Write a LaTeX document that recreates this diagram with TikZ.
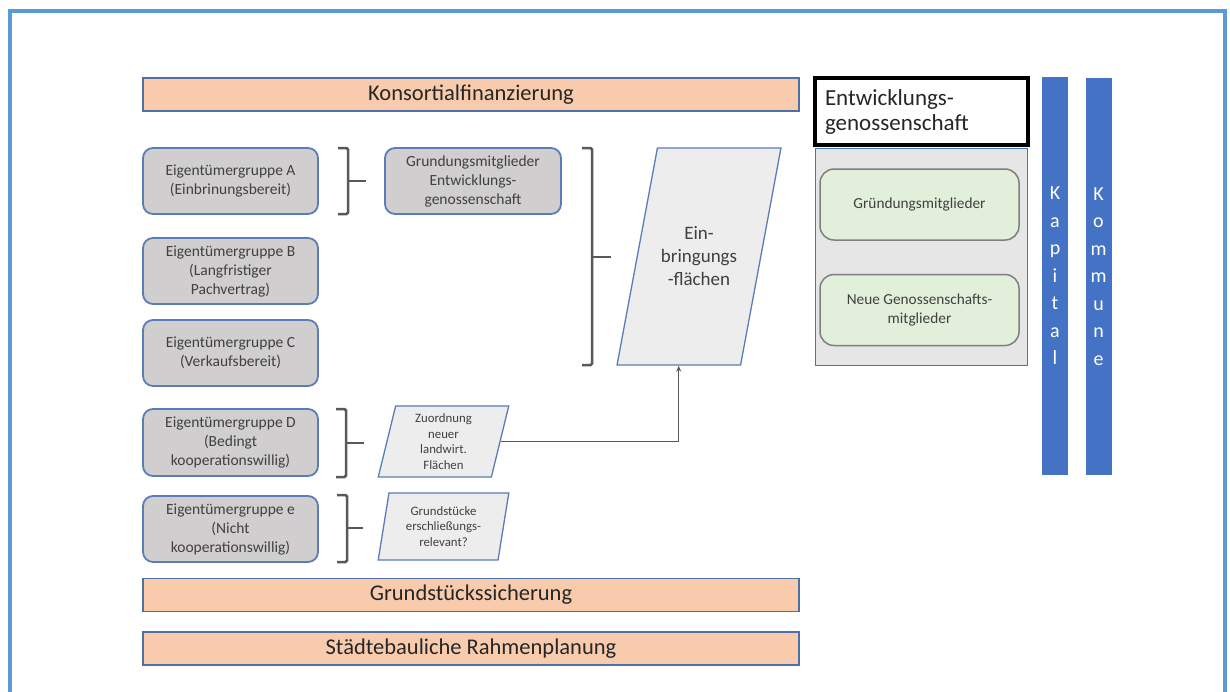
\documentclass[tikz,border=0pt]{standalone}
\usepackage{fontspec}
\setmainfont{Carlito}
\usetikzlibrary{shapes.geometric,arrows.meta}

\definecolor{frameblue}{HTML}{5B9BD5}
\definecolor{barblue}{HTML}{4F6FA8}
\definecolor{barfill}{HTML}{F8CBAD}
\definecolor{boxblue}{HTML}{5A7DB8}
\definecolor{boxgray}{HTML}{D0CECE}
\definecolor{parafill}{HTML}{EDEDED}
\definecolor{panelgray}{HTML}{E7E6E6}
\definecolor{greenfill}{HTML}{E2EFDA}
\definecolor{greenline}{HTML}{7F7F7F}
\definecolor{colblue}{HTML}{4472C4}
\definecolor{brkgray}{HTML}{595959}
\definecolor{txt}{HTML}{404040}

\begin{document}
\begin{tikzpicture}[x=1pt, y=-1pt,
  bar/.style={draw=barblue, fill=barfill, line width=1.3pt, minimum width=656pt,
              minimum height=33pt, inner sep=0pt, text=black!85,
              font=\fontsize{22.5}{26}\selectfont},
  grp/.style={draw=boxblue, fill=boxgray, rounded corners=10pt, line width=1.8pt,
              minimum width=175pt, minimum height=66pt, align=center, inner sep=2pt,
              text=txt, font=\fontsize{15.5}{19}\selectfont},
  para/.style={trapezium, trapezium left angle=79.5, trapezium right angle=100.5,
               trapezium stretches=true, draw=boxblue, fill=parafill, line width=1.3pt,
               align=center, inner sep=0pt, text=txt},
  brk/.style={draw=brkgray, line width=2.5pt, rounded corners=1.5pt},
  member/.style={draw=greenline, fill=greenfill, rounded corners=14pt, line width=1.5pt,
                 minimum width=199pt, minimum height=71pt, align=center,
                 text=txt, font=\fontsize{15.3}{19}\selectfont},
  column/.style={fill=colblue, minimum width=26pt, minimum height=398pt, inner sep=0pt,
                 align=center, text=white, font=\fontsize{20}{27.5}\selectfont},
  conn/.style={-{Stealth[length=6pt,width=5pt]}, draw=brkgray, line width=1.5pt}
]
\useasboundingbox (0,0) rectangle (1230,691);
\fill[white] (0,0) rectangle (1230,691);
% outer frame, open at the bottom
\draw[frameblue, line width=4pt] (10,700) -- (10,11) -- (1225,11) -- (1225,700);

% ---------------- bars ----------------
\node[bar] (kons) at (471,94.5) {Konsortialfinanzierung};
\node[bar] (sich) at (471,595) {Grundstückssicherung};
\node[bar] (rahmen) at (471,648.5) {Städtebauliche Rahmenplanung};

% ---------------- owner groups ----------------
\node[grp] (grpA) at (230.5,181) {Eigentümergruppe A\\(Einbrinungsbereit)};
\node[grp] (grpB) at (230.5,271) {Eigentümergruppe B\\(Langfristiger\\Pachvertrag)};
\node[grp] (grpC) at (230.5,353) {Eigentümergruppe C\\(Verkaufsbereit)};
\node[grp, minimum height=67pt] (grpD) at (230.5,442.5) {Eigentümergruppe D\\(Bedingt\\kooperationswillig)};
\node[grp] (grpE) at (230.5,529) {Eigentümergruppe e\\(Nicht\\kooperationswillig)};

\node[grp, minimum width=176pt] (gruend) at (473,181) {Grundungsmitglieder\\Entwicklungs-\\genossenschaft};

% brackets
\draw[brk] (338,148) -- (348,148) -- (348,214) -- (338,214);
\draw[brk] (348,181) -- (366,181);
\draw[brk] (582,148) -- (592,148) -- (592,365) -- (582,365);
\draw[brk] (592,257) -- (611,257);
\draw[brk] (336,409) -- (346,409) -- (346,477) -- (336,477);
\draw[brk] (346,443) -- (364,443);
\draw[brk] (337,495) -- (347,495) -- (347,562) -- (337,562);
\draw[brk] (347,528) -- (363,528);

% ---------------- parallelograms ----------------
\node[para, trapezium left angle=58, trapezium right angle=122,
      minimum width=164pt, minimum height=217pt,
      font=\fontsize{19}{23}\selectfont] (einbr) at (699,256.5) {Ein-\\bringungs\\-flächen};
\node[para, minimum width=131pt, minimum height=71pt,
      font=\fontsize{12.8}{15.5}\selectfont] (zuord) at (443.5,441.5) {Zuordnung\\neuer\\landwirt.\\Flächen};
\node[para, minimum width=131pt, minimum height=67pt,
      font=\fontsize{12.8}{15.5}\selectfont] (grundst) at (443.5,526.5) {Grundstücke\\erschließungs-\\relevant?};

\draw[conn] (zuord.right side) -| (einbr.bottom side);

% ---------------- cooperative ----------------
\node[draw=black, line width=3.5pt, fill=white, minimum width=213pt, minimum height=67pt,
      text width=193pt, inner xsep=10pt, align=left, text=black!85,
      font=\fontsize{23}{25}\selectfont] (egtitle) at (921.5,111.5) {Entwicklungs-\\genossenschaft};
\node[draw=colblue, fill=panelgray, line width=1pt, minimum width=212pt,
      minimum height=217pt] (panel) at (921,256.5) {};
\node[member] (mem1) at (919.5,204.5) {Gründungsmitglieder};
\node[member] (mem2) at (919.5,310) {Neue Genossenschafts-\\mitglieder};

\node[column] (kapital) at (1055,276) {K\\a\\p\\i\\t\\a\\l};
\node[column, minimum height=397pt] (kommune) at (1098.5,276.5) {K\\o\\m\\m\\u\\n\\e};
\end{tikzpicture}
\end{document}
